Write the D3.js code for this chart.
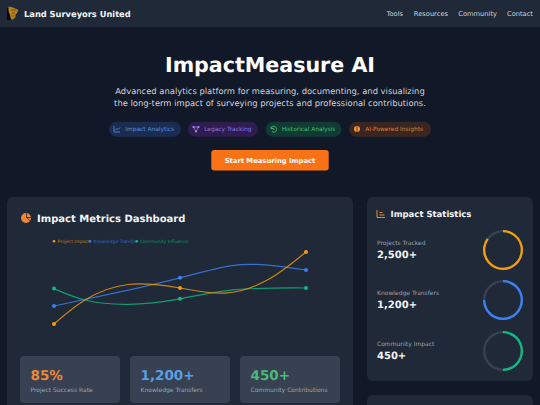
<!DOCTYPE html>
<html>
<head>
<meta charset="utf-8">
<script src="https://cdn.jsdelivr.net/npm/d3@7/dist/d3.min.js"></script>
<style>
  html, body { margin: 0; padding: 0; background: #111827; overflow: hidden; }
  svg { display: block; font-family: "DejaVu Sans", sans-serif; text-rendering: geometricPrecision; }
</style>
</head>
<body>
<svg id="chart" width="540" height="405"></svg>
<script>
// Nav and hero text
const navLinks = ['Tools', 'Resources', 'Community', 'Contact'];
const navRight = [403, 448, 497, 533];
const badgeLabels = ['Impact Analytics', 'Legacy Tracking', 'Historical Analysis', 'AI-Powered Insights'];

// Line chart values, position along the axis (0-100) and value
const legendLabels = ['Project Impact', 'Knowledge Transfer', 'Community Influence'];
const markerX = [0, 50, 100];
const projectMarkers = [15, 45, 75];
const knowledgeMarkers = [30, 53.5, 60];
const communityMarkers = [44.5, 36, 45];
const projectCurve = [[0, 15], [12.3, 35], [29.4, 47.9], [50, 45], [67.9, 40.8], [85, 52], [100, 75]];
const knowledgeCurve = [[0, 30], [26.2, 41.7], [50, 53.5], [70, 63.5], [85, 64], [100, 60]];
const communityCurve = [[0, 44.5], [12.3, 35], [29.5, 31.4], [50, 36], [72, 43.6], [100, 45]];

// Metric cards and side stats
const metricValues = ['85%', '1,200+', '450+'];
const metricLabels = ['Project Success Rate', 'Knowledge Transfers', 'Community Contributions'];
const statLabels = ['Projects Tracked', 'Knowledge Transfers', 'Community Impact'];
const statValues = ['2,500+', '1,200+', '450+'];
const statPercents = [85, 75, 50];

const svg = d3.select('#chart');

const text = (x, y, str, size, fill, weight, anchor) => svg.append('text')
  .attr('x', x).attr('y', y)
  .attr('font-size', size).attr('fill', fill)
  .attr('font-weight', weight || 400)
  .attr('text-anchor', anchor || 'start')
  .text(str);

const box = (x, y, w, h, r, fill) => svg.append('rect')
  .attr('x', x).attr('y', y).attr('width', w).attr('height', h)
  .attr('rx', r).attr('fill', fill);

// Navbar
box(0, 0, 540, 27, 0, '#1f2937');
const logo = svg.append('g');
logo.append('rect').attr('x', 7).attr('y', 8).attr('width', 5).attr('height', 12).attr('fill', '#0a0a0a');
logo.append('path').attr('d', 'M8.5 6.5 L13 7.5 L18.5 10 L17 13 L15.5 14.5 L15.5 17 L13 19.5 L11 19.5 L10 15 L8.5 11 Z').attr('fill', '#b5801f');
logo.append('path').attr('d', 'M11 10 H16 M12 13 H15 M12 16 H14').attr('stroke', '#5e4210').attr('stroke-width', 0.7);
text(24, 17, 'Land Surveyors United', 8.3, '#f3f4f6', 700);
navLinks.forEach((d, i) => text(navRight[i], 16, d, 6.7, '#d1d5db', 400, 'end'));

// Hero
text(270, 72, 'ImpactMeasure AI', 20.6, '#ffffff', 700, 'middle');
text(270, 94, 'Advanced analytics platform for measuring, documenting, and visualizing', 8.4, '#d1d5db', 400, 'middle');
text(270, 106, 'the long-term impact of surveying projects and professional contributions.', 8.4, '#d1d5db', 400, 'middle');

// Badges
const badgeX = [109, 188, 265.5, 349];
const badgeW = [72, 70, 76, 82];
const badgeFill = ['#1a2c50', '#2f1d50', '#123a35', '#3a2621'];
const badgeText = ['#60a5fa', '#a78bfa', '#4ade80', '#fb923c'];
const badgeIcons = [
  'M-3 -3 V3 H3 M-1.5 1 L0 -0.5 L1 0.5 L3 -1.5',
  'M-2.5 -2 H2.5 M-2.5 -2 L0 2.5 M2.5 -2 L0 2.5',
  'M-2.5 -2.5 V-0.5 H-0.5 M-2.5 -0.5 A2.9 2.9 0 1 1 -1.5 2.5 M0 -1.2 V0.3 H1.2',
  'M0 -2.8 V2.8'
];
badgeLabels.forEach((d, i) => {
  box(badgeX[i], 121.7, badgeW[i], 15, 7.5, badgeFill[i]);
  text(badgeX[i] + 16.2, 131.2, d, 5.9, badgeText[i]).attr('fill-opacity', 0.85);
  const icon = svg.append('g').attr('transform', `translate(${badgeX[i] + 8},129)`);
  if (i === 3) icon.append('circle').attr('r', 3).attr('fill', badgeText[i]);
  if (i === 1) {
    icon.selectAll('circle').data([[-2.5, -2], [2.5, -2], [0, 2.5]]).enter().append('circle')
      .attr('cx', d => d[0]).attr('cy', d => d[1]).attr('r', 1.1).attr('fill', badgeText[i]);
  }
  icon.append('path').attr('d', badgeIcons[i]).attr('fill', 'none')
    .attr('stroke', i === 3 ? badgeFill[i] : badgeText[i]).attr('stroke-width', 0.7);
});

// Button
box(211.3, 150, 117.4, 20.5, 3, '#f97316');
text(270, 163, 'Start Measuring Impact', 6.8, '#ffffff', 700, 'middle');

// Main cards
box(7, 197, 346, 230, 6, '#1f2937');
box(367, 197, 166, 184, 6, '#1f2937');
box(367, 395, 166, 30, 6, '#1f2937');

// Dashboard heading
const pieIcon = svg.append('g').attr('transform', 'translate(26,218)');
pieIcon.append('path')
  .attr('d', d3.arc().innerRadius(0).outerRadius(5).startAngle(0).endAngle(2 * Math.PI)())
  .attr('fill', '#ed8936');
pieIcon.append('path').attr('d', 'M0.5 -5.5 V-0.5 H5.5 M0.5 -0.5 L4.5 3').attr('fill', 'none')
  .attr('stroke', '#1f2937').attr('stroke-width', 0.8);
text(37, 221.5, 'Impact Metrics Dashboard', 10, '#f3f4f6', 700);

// Line chart
const xScale = d3.scaleLinear().domain([0, 100]).range([54, 306]);
const yScale = d3.scaleLinear().domain([0, 100]).range([342, 222]);
const line = d3.line().x(d => xScale(d[0])).y(d => yScale(d[1])).curve(d3.curveNatural);

const seriesColors = ['#f59e0b', '#3b82f6', '#10b981'];
const curves = [projectCurve, knowledgeCurve, communityCurve];
const markers = [projectMarkers, knowledgeMarkers, communityMarkers];
const legendX = [53, 89, 135.7];

[2, 1, 0].forEach(i => {
  svg.append('path')
    .attr('d', line(curves[i]))
    .attr('fill', 'none')
    .attr('stroke', seriesColors[i])
    .attr('stroke-opacity', 0.8)
    .attr('stroke-width', 1.2);
  svg.selectAll(null)
    .data(markers[i])
    .enter()
    .append('circle')
    .attr('cx', (d, j) => xScale(markerX[j]))
    .attr('cy', d => yScale(d))
    .attr('r', 2)
    .attr('fill', seriesColors[i]);
});

legendLabels.forEach((d, i) => {
  text(legendX[i] + 4.5, 243, d, 4.5, seriesColors[i]).attr('fill-opacity', 0.75);
  svg.append('circle').attr('cx', legendX[i] + 1).attr('cy', 241.3).attr('r', 1.3).attr('fill', seriesColors[i]);
});

// Metric cards
const metricX = [20, 130, 240];
const metricColors = ['#ed8936', '#5a9fe6', '#48bb78'];
metricValues.forEach((d, i) => {
  box(metricX[i], 356, 100, 47, 4, '#374151');
  text(metricX[i] + 10.5, 379.5, d, 13.5, metricColors[i], 700);
  text(metricX[i] + 10.5, 391.5, metricLabels[i], 6, '#9ca3af');
});

// Impact statistics
const statIcon = svg.append('g').attr('fill', 'none').attr('stroke', '#ed8936').attr('stroke-width', 1);
statIcon.append('path').attr('d', 'M377 210 V217.5 H385 M379.5 215 H384.5 M379.5 212.5 H382.5');
text(390.5, 217, 'Impact Statistics', 8.5, '#f3f4f6', 700);

const arc = d3.arc().innerRadius(17.7).outerRadius(20).startAngle(0);
const ringY = [250, 300, 351];
const statColors = ['#f59e0b', '#3b82f6', '#10b981'];
statLabels.forEach((d, i) => {
  text(377, ringY[i] - 5, d, 6, '#9ca3af');
  text(377, ringY[i] + 8, statValues[i], 10, '#f3f4f6', 700);
  const g = svg.append('g').attr('transform', `translate(503,${ringY[i]})`);
  g.append('path').attr('d', arc({ endAngle: 2 * Math.PI })).attr('fill', '#374151');
  g.append('path').attr('d', arc({ endAngle: 2 * Math.PI * statPercents[i] / 100 })).attr('fill', statColors[i]);
});
</script>
</body>
</html>
